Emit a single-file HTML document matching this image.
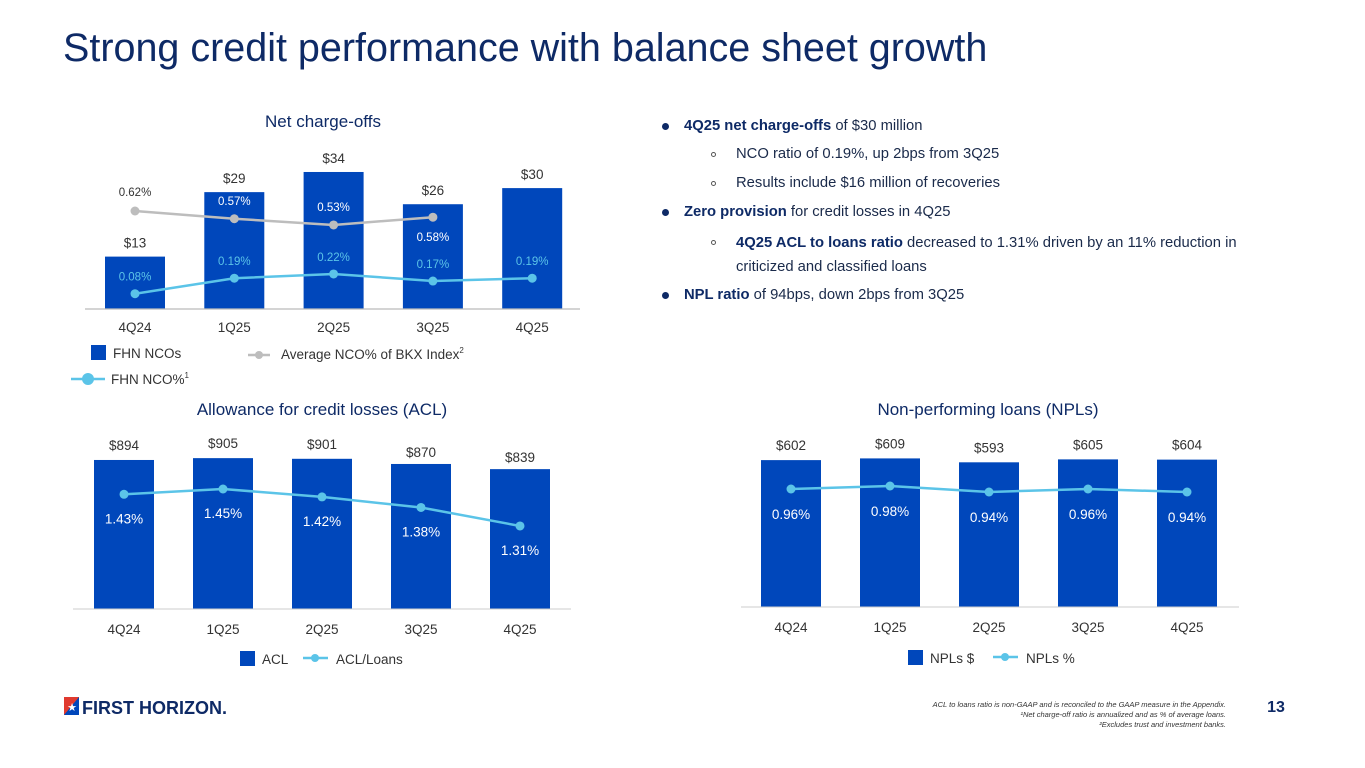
<!DOCTYPE html>
<html><head><meta charset="utf-8">
<style>
body{margin:0;width:1365px;height:768px;background:#fff;font-family:"Liberation Sans",sans-serif;overflow:hidden;position:relative}
#title{position:absolute;left:63px;top:26px;font-size:39.5px;color:#0e2a66;white-space:nowrap}
svg{position:absolute;left:0;top:0}
.bul{position:absolute;font-size:14.8px;color:#1a2a4a;white-space:nowrap}
.bul b{color:#0e2a66}
.dot{position:absolute;left:-22px;top:5px;width:7px;height:7px;border-radius:50%;background:#0e2a66}
.sub{position:absolute;left:-25px;top:6px;width:3px;height:3px;border-radius:50%;border:1px solid #555}
</style></head><body>
<div id="title">Strong credit performance with balance sheet growth</div>
<div class="bul" style="left:684px;top:118px"><span class="dot"></span><b>4Q25 net charge-offs</b> of $30 million</div>
<div class="bul" style="left:736px;top:146px"><span class="sub"></span>NCO ratio of 0.19%, up 2bps from 3Q25</div>
<div class="bul" style="left:736px;top:175px"><span class="sub"></span>Results include $16 million of recoveries</div>
<div class="bul" style="left:684px;top:204px"><span class="dot"></span><b>Zero provision</b> for credit losses in 4Q25</div>
<div class="bul" style="left:736px;top:231px;line-height:24px"><span class="sub" style="top:9px"></span><b>4Q25 ACL to loans ratio</b> decreased to 1.31% driven by an 11% reduction in<br>criticized and classified loans</div>
<div class="bul" style="left:684px;top:287px"><span class="dot"></span><b>NPL ratio</b> of 94bps, down 2bps from 3Q25</div>

<svg id="chart" width="1365" height="768"></svg>

<script>
const quarters=["4Q24","1Q25","2Q25","3Q25","4Q25"];
const ncoValues=[13,29,34,26,30];
const ncoLabels=["$13","$29","$34","$26","$30"];
const ncoPct=[0.08,0.19,0.22,0.17,0.19];
const bkxPct=[0.62,0.57,0.53,0.58];
const aclValues=[894,905,901,870,839];
const aclPct=[1.43,1.45,1.42,1.38,1.31];
const nplValues=[602,609,593,605,604];
const nplPct=[0.96,0.98,0.94,0.96,0.94];

const svg=document.getElementById('chart');
const NS="http://www.w3.org/2000/svg";
const BLUE="#0047bb",LB="#5bc4e8",GR="#bdbdbd",TX="#333";
function mk(tag,attrs,name){const e=document.createElementNS(NS,tag);for(const k in attrs)e.setAttribute(k,attrs[k]);


svg.appendChild(e);return e;}
function txt(x,y,s,opt,name){const t=mk('text',Object.assign({x:x,y:y,'text-anchor':'middle','font-size':13,fill:TX,'font-family':'Liberation Sans, sans-serif'},opt||{}),name);t.textContent=s;return t;}
function pathFrom(pts){return "M"+pts.map(p=>p[0]+","+p[1]).join(" L");}

// ---- Net charge-offs ----
(function(){
 const x0=135,dx=99.3,base=309,k=4.03,bw=60;
 const xs=i=>x0+i*dx, yb=v=>base-v*k;
 const yl=v=>305-v*141, yg=v=>211-(v-0.62)*155;
 txt(323,127,"Net charge-offs",{'font-size':17,fill:'#0e2a66'},'nco-chart-title');
 ncoValues.forEach((v,i)=>{mk('rect',{x:xs(i)-bw/2,y:yb(v),width:bw,height:v*k,fill:BLUE},'nco-bar-'+quarters[i]);
  txt(xs(i),yb(v)-9,ncoLabels[i],{'font-size':13.5},'nco-bar-label');});
 mk('line',{x1:85,x2:580,y1:base,y2:base,stroke:'#bbb','stroke-width':1.2},'nco-x-axis');
 quarters.forEach((q,i)=>txt(xs(i),332,q,{'font-size':13.5},'nco-x-tick'));
 mk('path',{d:pathFrom(bkxPct.map((v,i)=>[xs(i),yg(v)])),stroke:GR,'stroke-width':2.5,fill:'none'},'bkx-line');
 bkxPct.forEach((v,i)=>{mk('circle',{cx:xs(i),cy:yg(v),r:4.5,fill:GR},'bkx-point');
  const lblY=i==3?yg(v)+24:yg(v)-(i==0?15:14);
  txt(xs(i),lblY,v.toFixed(2)+"%",{'font-size':11.5,fill:i==0?TX:'#fff'},'bkx-label');});
 mk('path',{d:pathFrom(ncoPct.map((v,i)=>[xs(i),yl(v)])),stroke:LB,'stroke-width':2.5,fill:'none'},'nco-pct-line');
 ncoPct.forEach((v,i)=>{mk('circle',{cx:xs(i),cy:yl(v),r:4.5,fill:LB},'nco-pct-point');
  txt(xs(i),yl(v)-13,v.toFixed(2)+"%",{'font-size':11.5,fill:LB},'nco-pct-label');});
 mk('rect',{x:91,y:345,width:15,height:15,fill:BLUE},'legend-fhn-ncos-swatch');
 txt(113,358,"FHN NCOs",{'text-anchor':'start','font-size':13.5},'legend-fhn-ncos');
 mk('line',{x1:248,x2:270,y1:355,y2:355,stroke:GR,'stroke-width':2.5},'legend-bkx-line');
 mk('circle',{cx:259,cy:355,r:4,fill:GR},'legend-bkx-dot');
 const t=txt(281,359,"Average NCO% of BKX Index",{'text-anchor':'start','font-size':13.5},'legend-bkx');
 const s=document.createElementNS(NS,'tspan');s.setAttribute('font-size','8');s.setAttribute('dy','-6');s.textContent="2";t.appendChild(s);
 mk('line',{x1:71,x2:105,y1:379,y2:379,stroke:LB,'stroke-width':2.5},'legend-nco-pct-line');
 mk('circle',{cx:88,cy:379,r:6,fill:LB},'legend-nco-pct-dot');
 const t2=txt(111,384,"FHN NCO%",{'text-anchor':'start','font-size':13.5},'legend-nco-pct');
 const s2=document.createElementNS(NS,'tspan');s2.setAttribute('font-size','8');s2.setAttribute('dy','-6');s2.textContent="1";t2.appendChild(s2);
})();

// ---- ACL ----
(function(){
 const x0=124,dx=99,base=609,k=0.1667,bw=60;
 const xs=i=>x0+i*dx, yb=v=>base-v*k, yl=v=>489+(1.45-v)*264;
 txt(322,415,"Allowance for credit losses (ACL)",{'font-size':17,fill:'#0e2a66'},'acl-chart-title');
 aclValues.forEach((v,i)=>{mk('rect',{x:xs(i)-bw/2,y:yb(v),width:bw,height:v*k,fill:BLUE},'acl-bar-'+quarters[i]);
  txt(xs(i),i==3||i==4?yb(v)-7:yb(v)-10,"$"+v,{'font-size':13.5},'acl-bar-label');});
 mk('line',{x1:73,x2:571,y1:base,y2:base,stroke:'#ccc','stroke-width':1},'acl-x-axis');
 quarters.forEach((q,i)=>txt(xs(i),634,q,{'font-size':13.5},'acl-x-tick'));
 mk('path',{d:pathFrom(aclPct.map((v,i)=>[xs(i),yl(v)])),stroke:LB,'stroke-width':2.5,fill:'none'},'acl-pct-line');
 aclPct.forEach((v,i)=>{mk('circle',{cx:xs(i),cy:yl(v),r:4.5,fill:LB},'acl-pct-point');
  txt(xs(i),yl(v)+29,v.toFixed(2)+"%",{'font-size':13.5,fill:'#fff'},'acl-pct-label');});
 mk('rect',{x:240,y:651,width:15,height:15,fill:BLUE},'legend-acl-swatch');
 txt(262,664,"ACL",{'text-anchor':'start','font-size':13.5},'legend-acl');
 mk('line',{x1:303,x2:328,y1:658,y2:658,stroke:LB,'stroke-width':2.5},'legend-acl-pct-line');
 mk('circle',{cx:315,cy:658,r:4,fill:LB},'legend-acl-pct-dot');
 txt(336,664,"ACL/Loans",{'text-anchor':'start','font-size':13.5},'legend-acl-pct');
})();

// ---- NPL ----
(function(){
 const x0=791,dx=99,base=607,k=0.244,bw=60;
 const xs=i=>x0+i*dx, yb=v=>base-v*k, yl=v=>489+(0.96-v)*150;
 txt(988,415,"Non-performing loans (NPLs)",{'font-size':17,fill:'#0e2a66'},'npl-chart-title');
 nplValues.forEach((v,i)=>{mk('rect',{x:xs(i)-bw/2,y:yb(v),width:bw,height:v*k,fill:BLUE},'npl-bar-'+quarters[i]);
  txt(xs(i),yb(v)-10,"$"+v,{'font-size':13.5},'npl-bar-label');});
 mk('line',{x1:741,x2:1239,y1:base,y2:base,stroke:'#ccc','stroke-width':1},'npl-x-axis');
 quarters.forEach((q,i)=>txt(xs(i),632,q,{'font-size':13.5},'npl-x-tick'));
 mk('path',{d:pathFrom(nplPct.map((v,i)=>[xs(i),yl(v)])),stroke:LB,'stroke-width':2.5,fill:'none'},'npl-pct-line');
 nplPct.forEach((v,i)=>{mk('circle',{cx:xs(i),cy:yl(v),r:4.5,fill:LB},'npl-pct-point');
  txt(xs(i),yl(v)+30,v.toFixed(2)+"%",{'font-size':13.5,fill:'#fff'},'npl-pct-label');});
 mk('rect',{x:908,y:650,width:15,height:15,fill:BLUE},'legend-npl-swatch');
 txt(930,663,"NPLs $",{'text-anchor':'start','font-size':13.5},'legend-npl');
 mk('line',{x1:993,x2:1018,y1:657,y2:657,stroke:LB,'stroke-width':2.5},'legend-npl-pct-line');
 mk('circle',{cx:1005,cy:657,r:4,fill:LB},'legend-npl-pct-dot');
 txt(1026,663,"NPLs %",{'text-anchor':'start','font-size':13.5},'legend-npl-pct');
})();

// footer
mk('rect',{x:64,y:697,width:15,height:18,fill:'#0047bb'},'logo-mark');
mk('path',{d:"M64,697 L79,697 L64,715 Z",fill:'#e03a2f'},'logo-mark-red');
txt(72,711,"★",{'font-size':11,fill:'#fff'},'logo-star');
txt(82,714,"FIRST HORIZON.",{'text-anchor':'start','font-size':18,'font-weight':'bold',fill:'#0e2a66'},'logo-text');
txt(1226,707,"ACL to loans ratio is non-GAAP and is reconciled to the GAAP measure in the Appendix.",{'text-anchor':'end','font-size':7.5,'font-style':'italic'},'footnote-1');
txt(1226,717,"¹Net charge-off ratio is annualized and as % of average loans.",{'text-anchor':'end','font-size':7.5,'font-style':'italic'},'footnote-2');
txt(1226,727,"²Excludes trust and investment banks.",{'text-anchor':'end','font-size':7.5,'font-style':'italic'},'footnote-3');
txt(1276,712,"13",{'font-size':16,'font-weight':'bold',fill:'#0e2a66'},'page-number');
</script>
</body></html>
